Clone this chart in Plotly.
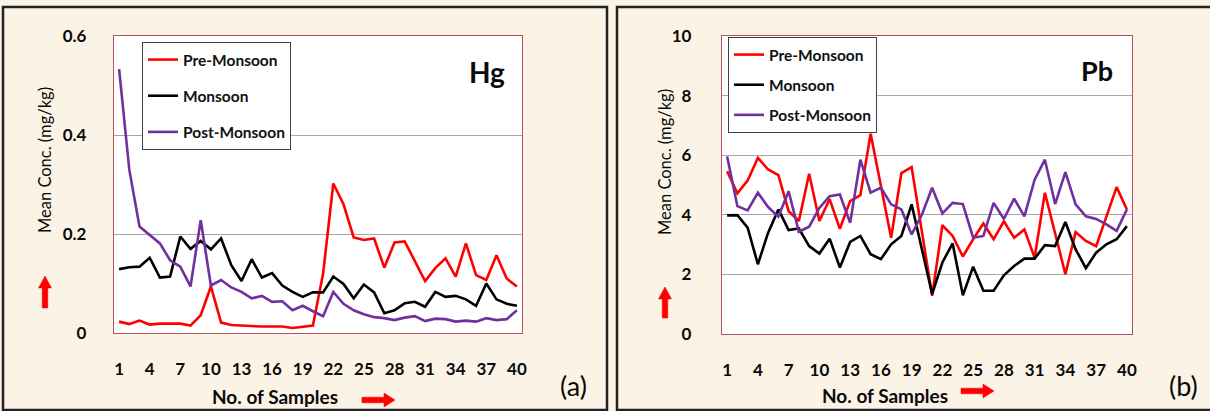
import plotly.graph_objects as go

W, H = 1210, 411

samples = list(range(1, 41))
x_tickvals = list(range(1, 41, 3))
x_ticktext = [str(v) for v in x_tickvals]

series_names = ["Pre-Monsoon", "Monsoon", "Post-Monsoon"]
series_colors = ["#FF0000", "#000000", "#7030A0"]

hg_pre = [0.023, 0.018, 0.025, 0.017, 0.019, 0.019, 0.019, 0.015, 0.036, 0.094,
          0.021, 0.016, 0.015, 0.013, 0.013, 0.013, 0.013, 0.010, 0.012, 0.015,
          0.120, 0.302, 0.260, 0.193, 0.188, 0.191, 0.132, 0.183, 0.185, 0.144,
          0.105, 0.131, 0.151, 0.114, 0.181, 0.117, 0.107, 0.157, 0.110, 0.094]
hg_mon = [0.129, 0.133, 0.134, 0.152, 0.112, 0.114, 0.195, 0.170, 0.186, 0.169,
          0.191, 0.137, 0.105, 0.149, 0.112, 0.121, 0.096, 0.083, 0.073, 0.082,
          0.082, 0.114, 0.099, 0.070, 0.098, 0.082, 0.040, 0.046, 0.060, 0.063,
          0.053, 0.083, 0.073, 0.075, 0.068, 0.055, 0.100, 0.068, 0.059, 0.055]
hg_post = [0.533, 0.330, 0.215, 0.198, 0.181, 0.147, 0.134, 0.094, 0.228, 0.096,
           0.107, 0.092, 0.083, 0.070, 0.075, 0.063, 0.064, 0.046, 0.055, 0.044,
           0.034, 0.083, 0.059, 0.046, 0.038, 0.032, 0.030, 0.026, 0.031, 0.034,
           0.024, 0.029, 0.028, 0.023, 0.025, 0.023, 0.030, 0.026, 0.028, 0.046]

pb_pre = [5.46, 4.72, 5.15, 5.91, 5.52, 5.33, 4.12, 3.79, 5.38, 3.79,
          4.52, 3.53, 4.46, 4.66, 6.72, 5.00, 3.23, 5.40, 5.60, 3.44,
          1.28, 3.65, 3.29, 2.60, 3.18, 3.71, 3.18, 3.78, 3.23, 3.51,
          2.56, 4.74, 3.40, 2.01, 3.42, 3.12, 2.95, 3.96, 4.93, 4.18]
pb_mon = [3.98, 3.99, 3.57, 2.34, 3.40, 4.18, 3.49, 3.54, 2.95, 2.70,
          3.20, 2.23, 3.09, 3.29, 2.68, 2.51, 3.01, 3.29, 4.35, 2.85,
          1.34, 2.40, 3.04, 1.30, 2.26, 1.45, 1.45, 1.97, 2.28, 2.53,
          2.53, 2.98, 2.95, 3.76, 2.84, 2.21, 2.73, 3.01, 3.18, 3.62]
pb_post = [5.96, 4.29, 4.15, 4.74, 4.26, 3.94, 4.79, 3.43, 3.60, 4.23,
           4.62, 4.68, 3.73, 5.85, 4.74, 4.91, 4.35, 4.18, 3.34, 4.00,
           4.91, 4.05, 4.40, 4.36, 3.23, 3.29, 4.40, 3.86, 4.54, 3.95,
           5.18, 5.85, 4.36, 5.43, 4.35, 3.95, 3.86, 3.68, 3.46, 4.18]

hg_ticks = [0, 0.2, 0.4, 0.6]
hg_ticktext = ["0", "0.2", "0.4", "0.6"]
pb_ticks = [0, 2, 4, 6, 8, 10]

FONT = "Lato, 'Open Sans', sans-serif"
BG = "#FBF4E6"
FRAME = "#B5505E"
GRID = "#A6A6A6"


def px(x):
    return x / W


def py(y):
    return 1 - y / H


fig = go.Figure()

for name, col, vals in zip(series_names, series_colors, [hg_pre, hg_mon, hg_post]):
    fig.add_trace(go.Scatter(x=samples, y=vals, mode="lines", name=name,
                             line=dict(color=col, width=2.6), xaxis="x", yaxis="y",
                             legend="legend", legendgroup="a" + name))
for name, col, vals in zip(series_names, series_colors, [pb_pre, pb_mon, pb_post]):
    fig.add_trace(go.Scatter(x=samples, y=vals, mode="lines", name=name,
                             line=dict(color=col, width=2.6), xaxis="x2", yaxis="y2",
                             legend="legend2", legendgroup="b" + name))

axis_common = dict(showline=True, mirror=True, linecolor=FRAME, linewidth=1.2,
                   zeroline=False, ticks="", automargin=False,
                   tickfont=dict(family=FONT, size=17, color="#0A0A0A", weight="bold"))

xcommon = dict(axis_common, range=[0.5, 40.5], tickvals=x_tickvals, ticktext=x_ticktext,
               showgrid=False, ticklabelstandoff=20)

fig.update_layout(
    template="none",
    width=W, height=H,
    autosize=False,
    margin=dict(l=0, r=0, t=0, b=0, pad=0, autoexpand=False),
    paper_bgcolor=BG, plot_bgcolor="white",
    showlegend=True,
    xaxis=dict(xcommon, domain=[px(114), px(522)], anchor="y"),
    yaxis=dict(axis_common, domain=[py(333), py(36)], range=[0, 0.6], tickvals=hg_ticks,
               ticktext=hg_ticktext, showgrid=True, gridcolor=GRID, gridwidth=1,
               anchor="x", ticklabelstandoff=23),
    xaxis2=dict(xcommon, domain=[px(722), px(1132)], anchor="y2"),
    yaxis2=dict(axis_common, domain=[py(334), py(36)], range=[0, 10], tickvals=pb_ticks,
                showgrid=True, gridcolor=GRID, gridwidth=1, anchor="x2",
                ticklabelstandoff=26),
    legend=dict(x=px(142), y=py(42), xanchor="left", yanchor="top",
                bgcolor="white", bordercolor="#404040", borderwidth=1,
                font=dict(family=FONT, size=15.5, color="#111111", weight="bold"),
                traceorder="grouped", tracegroupgap=13, itemwidth=30),
    legend2=dict(x=px(728), y=py(37), xanchor="left", yanchor="top",
                 bgcolor="white", bordercolor="#404040", borderwidth=1,
                 font=dict(family=FONT, size=15.5, color="#111111", weight="bold"),
                 traceorder="grouped", tracegroupgap=7, itemwidth=30),
)

ann = []


def add_text(cx, cy, text, size, angle=0):
    ann.append(dict(x=px(cx), y=py(cy), xref="paper", yref="paper", text=text,
                    showarrow=False, textangle=angle, xanchor="center", yanchor="middle",
                    font=dict(family=FONT, size=size, color="#0A0A0A")))


add_text(487, 72, "<b>Hg</b>", 28)
add_text(1097, 70, "<b>Pb</b>", 27)
add_text(573, 385, "(a)", 27)
add_text(1183, 385, "(b)", 27)
add_text(275, 396, "<b>No. of Samples</b>", 19)
add_text(885, 395, "<b>No. of Samples</b>", 19)
add_text(45, 160, "Mean Conc. (mg/kg)", 16.5, -90)
add_text(665, 162, "Mean Conc. (mg/kg)", 16.5, -90)
fig.update_layout(annotations=ann)

shapes = []
for x0, x1 in [(3, 607), (617, 1214)]:
    shapes.append(dict(type="rect", xref="paper", yref="paper",
                       x0=px(x0), x1=px(x1), y0=py(410), y1=py(7),
                       line=dict(color="#222222", width=2.5), fillcolor="rgba(0,0,0,0)",
                       layer="below"))


def harrow(x0, x1, yc):
    hx = x1 - 11
    pts = [(x0, yc - 2.8), (hx, yc - 2.8), (hx, yc - 7), (x1, yc), (hx, yc + 7),
           (hx, yc + 2.8), (x0, yc + 2.8)]
    return "M " + " L ".join(f"{px(a):.5f},{py(b):.5f}" for a, b in pts) + " Z"


def varrow(xc, ytip, ybase):
    hy = ytip + 12
    pts = [(xc, ytip), (xc + 6.5, hy), (xc + 2.8, hy), (xc + 2.8, ybase),
           (xc - 2.8, ybase), (xc - 2.8, hy), (xc - 6.5, hy)]
    return "M " + " L ".join(f"{px(a):.5f},{py(b):.5f}" for a, b in pts) + " Z"


for path in [harrow(362, 395, 400), harrow(961, 994, 391),
             varrow(45, 276, 308), varrow(665, 287, 318)]:
    shapes.append(dict(type="path", xref="paper", yref="paper", path=path,
                       fillcolor="#FF0000", line=dict(color="#FF0000", width=0.5)))
fig.update_layout(shapes=shapes)

fig.write_html("out.html", include_plotlyjs=True, full_html=True,
               default_width="1210px", default_height="411px",
               config={"displayModeBar": False, "staticPlot": True},
               post_script="document.body.style.margin='0px';"
                           "document.body.style.overflow='hidden';"
                           "document.body.style.background='#FBF4E6';")
